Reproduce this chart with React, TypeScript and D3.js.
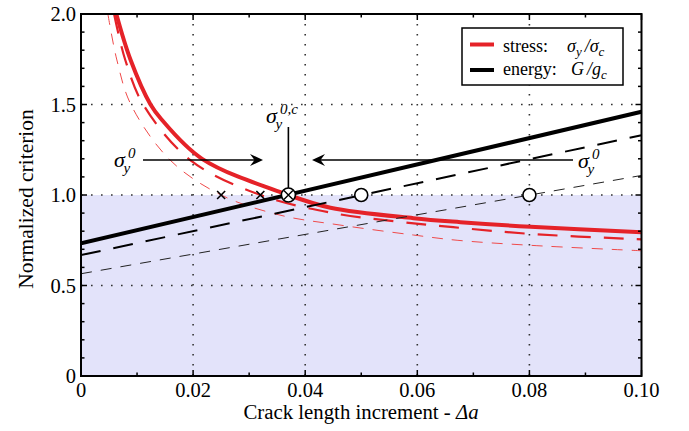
import React from "react";
import * as d3 from "d3";

// ---- data ----
const xTicks = [0, 0.02, 0.04, 0.06, 0.08, 0.1];
const xTickLabels = ["0", "0.02", "0.04", "0.06", "0.08", "0.10"];
const yTicks = [0, 0.5, 1.0, 1.5, 2.0];
const yTickLabels = ["0", "0.5", "1.0", "1.5", "2.0"];
const xGrid = [0.02, 0.04, 0.06, 0.08];
const yGrid = [0.5, 1.0, 1.5];

// stress curves (red)
const stressSolid: [number, number][] = [
  [0.0063, 2.0], [0.0088, 1.75], [0.0124, 1.5], [0.0143, 1.42], [0.0216, 1.2],
  [0.037, 1.0], [0.0445, 0.93], [0.0593, 0.872], [0.0677, 0.85], [0.0802, 0.824], [0.1, 0.794],
];
const stressDashed: [number, number][] = [
  [0.0059, 2.0], [0.0079, 1.746], [0.0111, 1.5], [0.0195, 1.193], [0.032, 1.0],
  [0.045, 0.9], [0.0564, 0.853], [0.0664, 0.822], [0.0802, 0.785], [0.1, 0.755],
];
const stressThin: [number, number][] = [
  [0.0048, 2.0], [0.0064, 1.746], [0.0089, 1.5], [0.0159, 1.193], [0.025, 1.0],
  [0.0355, 0.889], [0.0462, 0.834], [0.0593, 0.779], [0.0671, 0.75], [0.0802, 0.722], [0.1, 0.692],
];
// energy lines (black)
const energySolid: [number, number][] = [[0, 0.733], [0.1, 1.46]];
const energyDashed: [number, number][] = [[0, 0.668], [0.1, 1.33]];
const energyThin: [number, number][] = [[0, 0.565], [0.1, 1.108]];

const crossMarks = [0.025, 0.032];
const circleMarks = [0.05, 0.08];
const critical = 0.037;

const W = 689, H = 431;
const left = 81, right = 641.5, top = 14, bottom = 376;

export default function App() {
  const x = d3.scaleLinear().domain([0, 0.1]).range([left, right]);
  const y = d3.scaleLinear().domain([0, 2]).range([bottom, top]);
  const curve = d3.line<[number, number]>().x(d => x(d[0])).y(d => y(d[1])).curve(d3.curveCatmullRom.alpha(0.5));
  const straight = d3.line<[number, number]>().x(d => x(d[0])).y(d => y(d[1]));

  const red = "#e52228";
  const font = "'Liberation Serif', 'Times New Roman', serif";

  const minorX = d3.range(0, 0.1001, 0.01);
  const minorY = d3.range(0, 2.001, 0.1);

  const arrowHead = (tx: number, ty: number, dir: number) =>
    `M${tx},${ty} L${tx - dir * 13},${ty - 6} L${tx - dir * 8.5},${ty} L${tx - dir * 13},${ty + 6} Z`;

  const sigma = (sx: number, sy: number, sup: string) => (
    <g fontFamily={font} fontStyle="italic">
      <text x={sx} y={sy} fontSize={22}>σ</text>
      <text x={sx + 9.5} y={sy + 6} fontSize={15}>y</text>
      <text x={sx + 14} y={sy - 9} fontSize={15}>{sup}</text>
    </g>
  );

  return (
    <svg width={W} height={H} style={{ position: "absolute", left: 0, top: 0 }}>
      <defs>
        <clipPath id="plot">
          <rect x={left} y={top} width={right - left} height={bottom - top} />
        </clipPath>
      </defs>
      <rect x={0} y={0} width={W} height={H} fill="#fff" />
      {/* shaded region */}
      <rect x={x(0)} y={y(1)} width={x(0.1) - x(0)} height={y(0) - y(1)} fill="#e3e3fa" />
      {/* grid */}
      {xGrid.map(v => (
        <line key={"gx" + v} x1={x(v)} x2={x(v)} y1={top} y2={bottom} stroke="#333" strokeWidth={1.6} strokeDasharray="1.6 8.4" />
      ))}
      {yGrid.map(v => (
        <line key={"gy" + v} x1={left} x2={right} y1={y(v)} y2={y(v)} stroke="#333" strokeWidth={1.6} strokeDasharray="1.6 8.4" />
      ))}
      <g clipPath="url(#plot)" fill="none">
        <path d={curve(stressThin)!} stroke="#ef4a4a" strokeWidth={1} strokeDasharray="11 9" />
        <path d={curve(stressDashed)!} stroke={red} strokeWidth={2.2} strokeDasharray="20 13" />
        <path d={curve(stressSolid)!} stroke={red} strokeWidth={4} />
        <path d={straight(energyThin)!} stroke="#222" strokeWidth={1} strokeDasharray="11 9" />
        <path d={straight(energyDashed)!} stroke="#000" strokeWidth={2} strokeDasharray="20 13" />
        <path d={straight(energySolid)!} stroke="#000" strokeWidth={4} />
      </g>
      {/* markers */}
      {crossMarks.map(v => (
        <path key={"cx" + v} d={`M${x(v) - 4},${y(1) - 4} L${x(v) + 4},${y(1) + 4} M${x(v) - 4},${y(1) + 4} L${x(v) + 4},${y(1) - 4}`} stroke="#000" strokeWidth={1.6} />
      ))}
      {circleMarks.map(v => (
        <circle key={"cc" + v} cx={x(v)} cy={y(1)} r={6.5} fill="#fff" stroke="#000" strokeWidth={1.6} />
      ))}
      {/* annotations */}
      <line x1={x(critical)} x2={x(critical)} y1={127} y2={y(1)} stroke="#000" strokeWidth={1.6} />
      <circle cx={x(critical)} cy={y(1)} r={7} fill="#fff" stroke="#000" strokeWidth={1.6} />
      <path d={`M${x(critical) - 4.5},${y(1) - 4.5} L${x(critical) + 4.5},${y(1) + 4.5} M${x(critical) - 4.5},${y(1) + 4.5} L${x(critical) + 4.5},${y(1) - 4.5}`} stroke="#000" strokeWidth={1.4} />
      <line x1={143} x2={256} y1={160} y2={160} stroke="#000" strokeWidth={1.6} />
      <path d={arrowHead(263, 160, 1)} fill="#000" />
      <line x1={320} x2={573} y1={160} y2={160} stroke="#000" strokeWidth={1.6} />
      <path d={arrowHead(312, 160, -1)} fill="#000" />
      {sigma(114, 167, "0")}
      {sigma(578, 168, "0")}
      {sigma(266, 123, "0,c")}
      {/* frame */}
      <rect x={left} y={top} width={right - left} height={bottom - top} fill="none" stroke="#000" strokeWidth={2} />
      {/* ticks */}
      {minorX.map((v, i) => {
        const len = i % 2 === 0 ? 6 : 3.5;
        return (
          <g key={"tx" + i}>
            <line x1={x(v)} x2={x(v)} y1={bottom} y2={bottom - len} stroke="#000" strokeWidth={1.5} />
            <line x1={x(v)} x2={x(v)} y1={top} y2={top + len} stroke="#000" strokeWidth={1.5} />
          </g>
        );
      })}
      {minorY.map((v, i) => {
        const len = i % 5 === 0 ? 6 : 3.5;
        return (
          <g key={"ty" + i}>
            <line x1={left} x2={left + len} y1={y(v)} y2={y(v)} stroke="#000" strokeWidth={1.5} />
            <line x1={right} x2={right - len} y1={y(v)} y2={y(v)} stroke="#000" strokeWidth={1.5} />
          </g>
        );
      })}
      {/* tick labels */}
      {xTicks.map((v, i) => (
        <text key={"lx" + i} x={x(v)} y={397} textAnchor="middle" fontFamily={font} fontSize={20.5}>{xTickLabels[i]}</text>
      ))}
      {yTicks.map((v, i) => (
        <text key={"ly" + i} x={76} y={y(v) + 7} textAnchor="end" fontFamily={font} fontSize={20.5}>{yTickLabels[i]}</text>
      ))}
      {/* axis titles */}
      <text x={361} y={419} textAnchor="middle" fontFamily={font} fontSize={20.8}>
        Crack length increment - <tspan fontStyle="italic">Δa</tspan>
      </text>
      <text transform={`translate(33,199) rotate(-90)`} textAnchor="middle" fontFamily={font} fontSize={21.5}>Normalized criterion</text>
      {/* legend */}
      <rect x={462} y={28} width={161} height={57} fill="#fff" stroke="#000" strokeWidth={1.5} />
      <line x1={470} x2={494} y1={44.5} y2={44.5} stroke={red} strokeWidth={4} />
      <line x1={470} x2={494} y1={70} y2={70} stroke="#000" strokeWidth={4} />
      <text x={503} y={52} fontFamily={font} fontSize={18}>stress:</text>
      <text x={567} y={52} fontFamily={font} fontSize={18} fontStyle="italic">
        σ<tspan dy={4} fontSize={13}>y</tspan><tspan dy={-4} dx={3}>/σ</tspan><tspan dy={4} fontSize={13}>c</tspan>
      </text>
      <text x={503} y={75} fontFamily={font} fontSize={18}>energy:</text>
      <text x={571} y={75} fontFamily={font} fontSize={18} fontStyle="italic">
        G<tspan dx={3}>/g</tspan><tspan dy={4} fontSize={13}>c</tspan>
      </text>
    </svg>
  );
}
